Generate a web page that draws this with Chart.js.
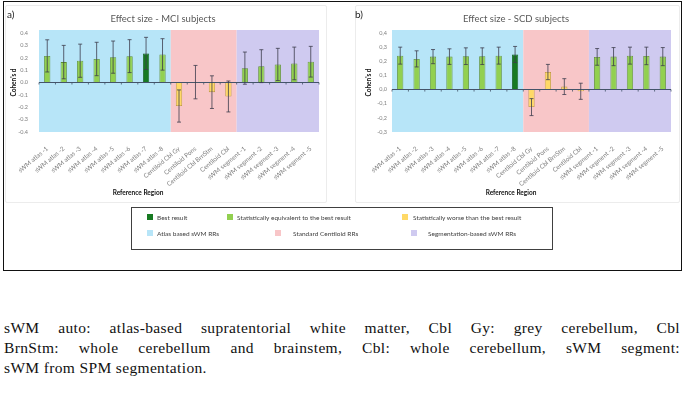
<!DOCTYPE html>
<html lang="en">
<head>
  <meta charset="UTF-8">
  <title>Effect size - reference regions</title>
  <script src="https://cdn.jsdelivr.net/npm/chart.js"></script>
  <style>
    body { margin: 0; background: #fff; width: 685px; height: 393px; position: relative; overflow: hidden; font-family: Lato, "Liberation Sans", sans-serif; }
    .abs { position: absolute; }
    .frame { left: 3px; top: 1px; width: 677px; height: 268px; border: 1px solid #111; }
    .card { top: 5px; height: 196px; border: 1px solid #ececec; border-radius: 2px; background: #fff; }
    .panel-tag { font-size: 10px; color: #222; }
    .title { font-size: 9.5px; color: #595959; white-space: nowrap; transform: translate(-50%, -50%); }
    .xtitle { font-size: 6.5px; font-weight: bold; color: #111; white-space: nowrap; transform: translate(-50%, -50%); }
    .legend { left: 131px; top: 207px; width: 420px; height: 41px; border: 1px solid #404040; }
    .lg { font-size: 6.5px; color: #404040; white-space: nowrap; transform: translateY(-50%); }
    .sw { width: 6px; height: 6px; transform: translateY(-50%); }
    .caption { left: 4px; width: 676px; font-family: "Liberation Serif", "DejaVu Serif", serif; font-size: 15.5px; letter-spacing: 0.35px; color: #111; line-height: 20px; }
    .caption div { text-align: justify; text-align-last: justify; white-space: nowrap; }
    .caption div.last { text-align-last: left; }
  </style>
</head>
<body>
  <div class="abs frame"></div>

  <!-- panel a -->
  <div class="abs card" style="left:5px; width:320px;"></div>
  <canvas id="mciChart" class="abs" style="left:5px; top:5px;" width="320" height="195"></canvas>
  <div class="abs panel-tag" style="left:7px; top:8px;">a)</div>
  <div class="abs title" style="left:163px; top:18px;">Effect size - MCI subjects</div>
  <div class="abs xtitle" style="left:138px; top:192px;">Reference Region</div>

  <!-- panel b -->
  <div class="abs card" style="left:355px; width:323px;"></div>
  <canvas id="scdChart" class="abs" style="left:355px; top:5px;" width="323" height="195"></canvas>
  <div class="abs panel-tag" style="left:355px; top:8px;">b)</div>
  <div class="abs title" style="left:516px; top:18px;">Effect size - SCD subjects</div>
  <div class="abs xtitle" style="left:511px; top:192px;">Reference Region</div>

  <!-- legend -->
  <div class="abs legend"></div>
  <div id="legendItems"></div>

  <!-- caption -->
  <div class="abs caption" style="top:318px;">
    <div>sWM auto: atlas-based supratentorial white matter, Cbl Gy: grey cerebellum, Cbl</div>
    <div>BrnStm: whole cerebellum and brainstem, Cbl: whole cerebellum, sWM segment:</div>
    <div class="last">sWM from SPM segmentation.</div>
  </div>

  <script>
    // categories
    const regionLabels = [
      'sWM atlas -1', 'sWM atlas -2', 'sWM atlas -3', 'sWM atlas -4',
      'sWM atlas -5', 'sWM atlas -6', 'sWM atlas -7', 'sWM atlas -8',
      'Centiloid Cbl Gy', 'Centiloid Pons', 'Centiloid Cbl BrnStm', 'Centiloid Cbl',
      'sWM segment -1', 'sWM segment -2', 'sWM segment -3', 'sWM segment -4', 'sWM segment -5'
    ];
    const regionGroups = [
      'atlas', 'atlas', 'atlas', 'atlas', 'atlas', 'atlas', 'atlas', 'atlas',
      'centiloid', 'centiloid', 'centiloid', 'centiloid',
      'segment', 'segment', 'segment', 'segment', 'segment'
    ];

    // a) MCI subjects
    const mciEffect = [0.215, 0.165, 0.176, 0.19, 0.205, 0.213, 0.235, 0.227,
                       -0.19, 0.003, -0.078, -0.113,
                       0.116, 0.132, 0.146, 0.154, 0.168];
    const mciError = [0.13, 0.135, 0.134, 0.135, 0.13, 0.133, 0.13, 0.127,
                      0.13, 0.135, 0.132, 0.125,
                      0.13, 0.133, 0.13, 0.132, 0.124];
    const mciResult = ['equiv', 'equiv', 'equiv', 'equiv', 'equiv', 'equiv', 'best', 'equiv',
                       'worse', 'worse', 'worse', 'worse',
                       'equiv', 'equiv', 'equiv', 'equiv', 'equiv'];

    // b) SCD subjects
    const scdEffect = [0.24, 0.217, 0.233, 0.233, 0.236, 0.236, 0.24, 0.248,
                       -0.124, 0.124, 0.021, -0.012,
                       0.231, 0.233, 0.24, 0.238, 0.233];
    const scdError = [0.06, 0.057, 0.05, 0.055, 0.059, 0.059, 0.06, 0.057,
                      0.06, 0.054, 0.056, 0.057,
                      0.059, 0.064, 0.06, 0.062, 0.064];
    const scdResult = ['equiv', 'equiv', 'equiv', 'equiv', 'equiv', 'equiv', 'equiv', 'best',
                       'worse', 'worse', 'worse', 'worse',
                       'equiv', 'equiv', 'equiv', 'equiv', 'equiv'];

    const resultFill = { best: '#177a22', equiv: '#92d050', worse: '#ffd966' };
    const resultEdge = { best: '#0e5216', equiv: '#5b8c2e', worse: '#b8963a' };
    const groupFill = { atlas: '#b7e5f8', centiloid: '#f8c6c8', segment: '#cfcaf0' };

    // legend (html)
    const legendEntries = [
      { label: 'Best result', color: resultFill.best, x: 147, y: 217, tx: 157 },
      { label: 'Statistically equivalent to the best result', color: resultFill.equiv, x: 227, y: 217, tx: 237 },
      { label: 'Statistically worse than the best result', color: resultFill.worse, x: 402, y: 217, tx: 413 },
      { label: 'Atlas based sWM RRs', color: groupFill.atlas, x: 147, y: 233, tx: 157 },
      { label: 'Standard Centiloid RRs', color: groupFill.centiloid, x: 275, y: 233, tx: 293 },
      { label: 'Segmentation-based sWM RRs', color: groupFill.segment, x: 411, y: 233, tx: 428 }
    ];
    const legendEl = document.getElementById('legendItems');
    legendEntries.forEach(e => {
      const sw = document.createElement('div');
      sw.className = 'abs sw';
      sw.style.left = e.x + 'px';
      sw.style.top = e.y + 'px';
      sw.style.background = e.color;
      legendEl.appendChild(sw);
      const t = document.createElement('div');
      t.className = 'abs lg';
      t.style.left = e.tx + 'px';
      t.style.top = e.y + 'px';
      t.textContent = e.label;
      legendEl.appendChild(t);
    });

    // coloured region bands behind the bars
    const bandsPlugin = {
      id: 'bands',
      beforeDraw(chart) {
        const { ctx, chartArea, scales: { x } } = chart;
        const step = x.getPixelForValue(1) - x.getPixelForValue(0);
        let start = 0;
        for (let i = 1; i <= regionGroups.length; i++) {
          if (i === regionGroups.length || regionGroups[i] !== regionGroups[start]) {
            const left = x.getPixelForValue(start) - step / 2;
            const right = x.getPixelForValue(i - 1) + step / 2;
            ctx.fillStyle = groupFill[regionGroups[start]];
            ctx.fillRect(left, chartArea.top - 3, right - left, chartArea.bottom - chartArea.top + 3);
            start = i;
          }
        }
      }
    };

    // error bars + small ticks on the zero line
    const errorBarsPlugin = {
      id: 'errorBars',
      afterDatasetsDraw(chart, args, opts) {
        const { ctx, scales: { x, y } } = chart;
        const values = chart.data.datasets[0].data;
        const errs = opts.errors;
        ctx.save();
        ctx.strokeStyle = '#3c3c4c';
        ctx.lineWidth = 0.8;
        values.forEach((v, i) => {
          const px = x.getPixelForValue(i);
          const top = y.getPixelForValue(v + errs[i]);
          const bot = y.getPixelForValue(v - errs[i]);
          ctx.beginPath();
          ctx.moveTo(px, top); ctx.lineTo(px, bot);
          ctx.moveTo(px - 2, top); ctx.lineTo(px + 2, top);
          ctx.moveTo(px - 2, bot); ctx.lineTo(px + 2, bot);
          ctx.stroke();
        });
        const y0 = y.getPixelForValue(0);
        const step = x.getPixelForValue(1) - x.getPixelForValue(0);
        ctx.strokeStyle = '#44546a';
        ctx.beginPath();
        for (let i = 0; i <= values.length; i++) {
          const px = x.getPixelForValue(i) - step / 2;
          ctx.moveTo(px, y0); ctx.lineTo(px, y0 + 2);
        }
        ctx.stroke();
        ctx.restore();
      }
    };

    const makePanel = (canvasId, values, errors, results, yMin, comma, yWidth, yTickPad, yTitlePad, rightPad) => {
      const canvas = document.getElementById(canvasId);
      const chartBottom = 127;
      return new Chart(canvas.getContext('2d'), {
        type: 'bar',
        data: {
          labels: regionLabels,
          datasets: [{
            data: values,
            backgroundColor: results.map(r => resultFill[r]),
            borderColor: results.map(r => resultEdge[r]),
            borderWidth: 0.8,
            barPercentage: 0.38,
            categoryPercentage: 1
          }]
        },
        options: {
          responsive: false,
          animation: false,
          layout: { padding: { top: 28, right: rightPad, left: 0, bottom: 0 } },
          plugins: {
            legend: { display: false },
            tooltip: { enabled: false },
            errorBars: { errors }
          },
          scales: {
            x: {
              grid: { display: false },
              border: { display: false },
              ticks: {
                autoSkip: false,
                minRotation: 40,
                maxRotation: 40,
                padding: 5,
                color: '#7f7f7f',
                font: { family: 'Lato', size: 6.3 }
              },
              afterFit: s => { s.height = canvas.height - chartBottom; }
            },
            y: {
              min: yMin,
              max: 0.4,
              border: { display: false },
              grid: {
                drawTicks: false,
                lineWidth: 1,
                color: c => Math.abs(c.tick.value) < 1e-9 ? '#44546a' : 'rgba(0,0,0,0)'
              },
              ticks: {
                stepSize: 0.1,
                padding: yTickPad,
                color: '#7f7f7f',
                font: { family: 'Lato', size: 5.5 },
                callback: v => {
                  const s = (Math.abs(v) < 1e-9 ? 0 : v).toFixed(1);
                  return comma ? s.replace('.', ',') : s;
                }
              },
              title: {
                display: true,
                text: "Cohen's d",
                color: '#111',
                padding: { top: yTitlePad, bottom: 0 },
                font: { family: 'Lato', size: 6.5, weight: 'bold' }
              },
              afterFit: s => { s.width = yWidth; }
            }
          }
        },
        plugins: [bandsPlugin, errorBarsPlugin]
      });
    };

    makePanel('mciChart', mciEffect, mciError, mciResult, -0.4, false, 34, 11, 5.5, 6);
    makePanel('scdChart', scdEffect, scdError, scdResult, -0.3, true, 37, 5, 10, 7);
  </script>
</body>
</html>
